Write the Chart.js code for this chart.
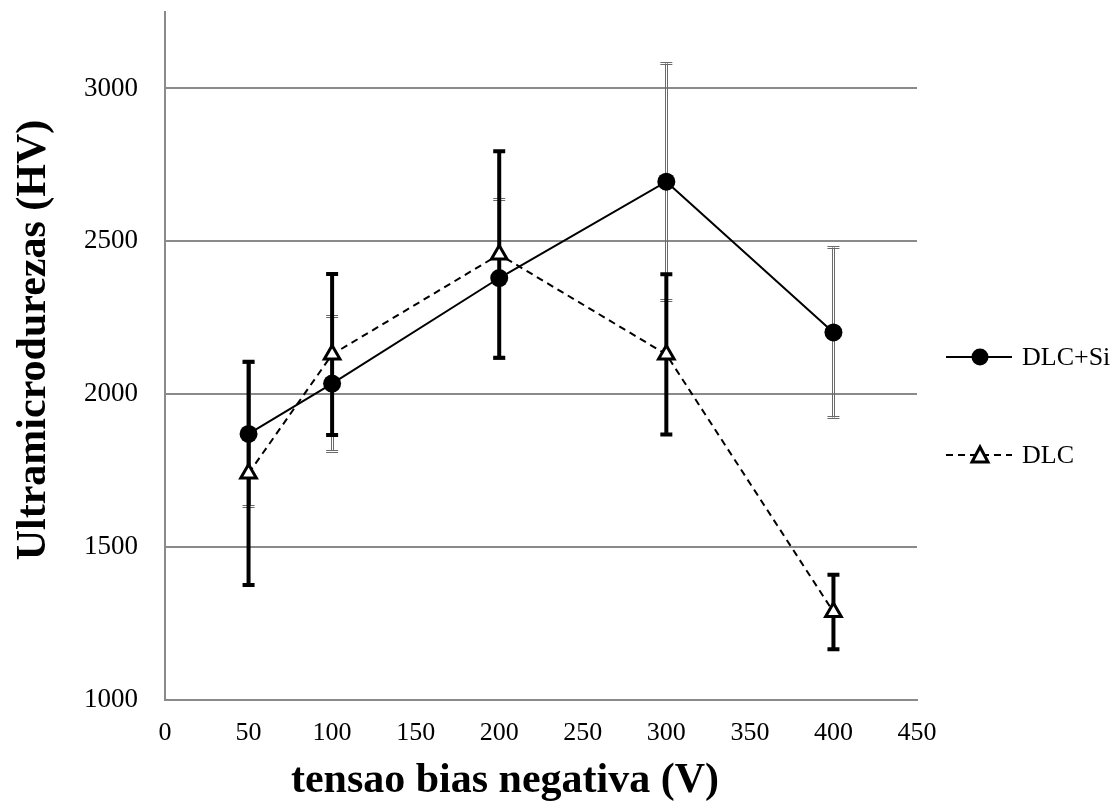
<!DOCTYPE html>
<html>
<head>
<meta charset="utf-8">
<script src="https://cdn.jsdelivr.net/npm/chart.js@4.4.1/dist/chart.umd.min.js"></script>
<style>
  html, body { margin: 0; padding: 0; background: #ffffff; }
  #wrap { width: 1120px; height: 803px; }
</style>
</head>
<body>
<div id="wrap"><canvas id="c" width="1120" height="803"></canvas></div>
<script>
// Bias voltage (V)
const biasVoltage = [50, 100, 200, 300, 400];
// Ultramicrohardness (HV) with standard deviations
const hardnessDlcSi = [1870, 2035, 2380, 2695, 2202];
const errorDlcSi    = [235, 220, 260, 387, 278];
const hardnessDlc   = [1741, 2130, 2457, 2130, 1288];
const errorDlc      = [365, 263, 338, 262, 122];
// Axis ticks
const xTicks = [0, 50, 100, 150, 200, 250, 300, 350, 400, 450];
const yTicks = [1000, 1500, 2000, 2500, 3000];

const seriesNames = ['DLC+Si', 'DLC'];
const xTitle = 'tensao bias negativa (V)';
const yTitle = 'Ultramicrodurezas (HV)';

const SERIF = '"Liberation Serif", "Times New Roman", serif';
const GRID = '#8a8a8a';

const toPoints = (ys) => biasVoltage.map((x, i) => ({ x: x, y: ys[i] }));

// Vertical error bars, drawn beneath the markers
const errorBarPlugin = {
  id: 'errorBars',
  beforeDatasetsDraw(chart) {
    const ctx = chart.ctx;
    const xs = chart.scales.x, ys = chart.scales.y;
    ctx.save();
    // DLC+Si: thin double line
    biasVoltage.forEach((v, i) => {
      const px = xs.getPixelForValue(v);
      const top = ys.getPixelForValue(hardnessDlcSi[i] + errorDlcSi[i]);
      const bot = ys.getPixelForValue(hardnessDlcSi[i] - errorDlcSi[i]);
      ctx.strokeStyle = '#6a6a6a';
      ctx.lineWidth = 1;
      [-1, 1].forEach(off => {
        ctx.beginPath();
        ctx.moveTo(Math.round(px) + off + 0.5, top);
        ctx.lineTo(Math.round(px) + off + 0.5, bot);
        ctx.stroke();
      });
      [top, bot].forEach(yy => {
        [-1, 1].forEach(off => {
          ctx.beginPath();
          ctx.moveTo(px - 6, Math.round(yy) + off + 0.5);
          ctx.lineTo(px + 6, Math.round(yy) + off + 0.5);
          ctx.stroke();
        });
      });
    });
    // DLC: heavy black bars
    biasVoltage.forEach((v, i) => {
      const px = xs.getPixelForValue(v);
      const top = ys.getPixelForValue(hardnessDlc[i] + errorDlc[i]);
      const bot = ys.getPixelForValue(hardnessDlc[i] - errorDlc[i]);
      ctx.strokeStyle = '#000000';
      ctx.lineWidth = 4;
      ctx.lineCap = 'butt';
      ctx.beginPath();
      ctx.moveTo(px, top);
      ctx.lineTo(px, bot);
      ctx.moveTo(px - 6, top);
      ctx.lineTo(px + 6, top);
      ctx.moveTo(px - 6, bot);
      ctx.lineTo(px + 6, bot);
      ctx.stroke();
    });
    ctx.restore();
  }
};

// Axis titles and legend on the right
const decorPlugin = {
  id: 'decor',
  afterDraw(chart) {
    const ctx = chart.ctx;
    ctx.save();
    ctx.fillStyle = '#000000';
    ctx.font = 'bold 42px ' + SERIF;
    ctx.textAlign = 'center';
    ctx.textBaseline = 'alphabetic';
    ctx.fillText(xTitle, 505, 792);

    ctx.save();
    ctx.translate(45, 340);
    ctx.rotate(-Math.PI / 2);
    ctx.fillText(yTitle, 0, 0);
    ctx.restore();

    // legend
    const lx0 = 946, lx1 = 1012, mx = 980, tx = 1022;
    const rows = [357, 455];
    ctx.strokeStyle = '#000000';
    ctx.lineWidth = 2;
    ctx.beginPath();
    ctx.moveTo(lx0, rows[0]);
    ctx.lineTo(lx1, rows[0]);
    ctx.stroke();
    ctx.beginPath();
    ctx.arc(mx, rows[0], 8.5, 0, Math.PI * 2);
    ctx.fillStyle = '#000000';
    ctx.fill();

    ctx.setLineDash([7, 5]);
    ctx.beginPath();
    ctx.moveTo(lx0, rows[1]);
    ctx.lineTo(lx1, rows[1]);
    ctx.stroke();
    ctx.setLineDash([]);
    ctx.lineWidth = 3;
    ctx.fillStyle = '#ffffff';
    ctx.beginPath();
    ctx.moveTo(mx, rows[1] - 8);
    ctx.lineTo(mx + 8, rows[1] + 7);
    ctx.lineTo(mx - 8, rows[1] + 7);
    ctx.closePath();
    ctx.fill();
    ctx.stroke();

    ctx.fillStyle = '#000000';
    ctx.font = '26px ' + SERIF;
    ctx.textAlign = 'left';
    ctx.textBaseline = 'middle';
    ctx.fillText(seriesNames[0], tx, rows[0] + 1);
    ctx.fillText(seriesNames[1], tx, rows[1] + 1);
    ctx.restore();
  }
};

new Chart(document.getElementById('c'), {
  type: 'line',
  data: {
    datasets: [
      {
        label: seriesNames[0],
        data: toPoints(hardnessDlcSi),
        borderColor: '#000000',
        borderWidth: 2,
        pointStyle: 'circle',
        pointRadius: 9,
        pointBackgroundColor: '#000000',
        pointBorderColor: '#000000',
        pointBorderWidth: 0,
        tension: 0,
        fill: false
      },
      {
        label: seriesNames[1],
        data: toPoints(hardnessDlc),
        borderColor: '#000000',
        borderWidth: 2,
        borderDash: [7, 5],
        pointStyle: 'triangle',
        pointRadius: 9,
        pointBackgroundColor: '#ffffff',
        pointBorderColor: '#000000',
        pointBorderWidth: 3,
        tension: 0,
        fill: false
      }
    ]
  },
  options: {
    responsive: false,
    animation: false,
    devicePixelRatio: 1,
    layout: { padding: { top: 10, right: 203, left: 0, bottom: 0 } },
    plugins: {
      legend: { display: false },
      tooltip: { enabled: false },
      title: { display: false }
    },
    scales: {
      x: {
        type: 'linear',
        min: 0,
        max: 450,
        afterBuildTicks(axis) { axis.ticks = xTicks.map(v => ({ value: v })); },
        afterFit(axis) {
          axis.height = 103;
          axis.paddingLeft = 0; axis.paddingRight = 0;
          axis.paddingTop = 0; axis.paddingBottom = 0;
        },
        ticks: {
          color: '#000000',
          font: { family: SERIF, size: 26 },
          padding: 18,
          maxRotation: 0,
          autoSkip: false,
          callback: (v) => String(v)
        },
        grid: { display: false, drawTicks: false },
        border: { display: true, color: GRID, width: 2 }
      },
      y: {
        type: 'linear',
        min: 1000,
        max: 3250,
        afterBuildTicks(axis) { axis.ticks = yTicks.map(v => ({ value: v })); },
        afterFit(axis) {
          axis.width = 165;
          axis.paddingTop = 0; axis.paddingBottom = 0;
          axis.paddingLeft = 0; axis.paddingRight = 0;
        },
        ticks: {
          color: '#000000',
          font: { family: SERIF, size: 27 },
          padding: 27,
          autoSkip: false,
          callback: (v) => String(v)
        },
        grid: { color: GRID, lineWidth: 2, drawTicks: false },
        border: { display: true, color: GRID, width: 2 }
      }
    }
  },
  plugins: [errorBarPlugin, decorPlugin]
});
</script>
</body>
</html>
